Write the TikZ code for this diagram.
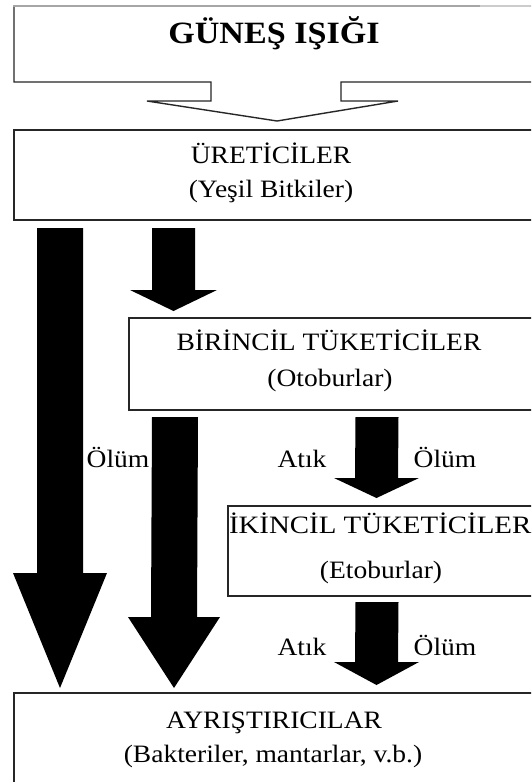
\documentclass[tikz,border=0pt]{standalone}
\usepackage{fontspec}
\usepackage{graphicx}
\setmainfont[FakeStretch=1.1]{Liberation Serif}
\usetikzlibrary{calc}
\tikzset{
  box/.style={draw=black!85, line width=1.4pt, rectangle, inner sep=0pt, outer sep=0pt, anchor=north west},
  txt/.style={inner sep=0pt, outer sep=0pt, anchor=base, font=\fontsize{25}{30}\selectfont},
  ttl/.style={inner sep=0pt, outer sep=0pt, anchor=base, font=\bfseries\fontsize{31}{36}\selectfont},
  blk/.style={fill=black},
}
% #1 start, #2 tip, #3 head length, #4 shaft half width, #5 head half width
\newcommand\blockarrow[5]{%
  \fill[blk] ($(#1)+(-#4,0)$) -- ($(#1)+(#4,0)$) -- ($(#2)+(#4,-#3)$) -- ($(#2)+(#5,-#3)$)
    -- (#2) -- ($(#2)+(-#5,-#3)$) -- ($(#2)+(-#4,-#3)$) -- cycle;}
\begin{document}
\begin{tikzpicture}[x=1pt,y=-1pt]
\useasboundingbox (0,0) rectangle (531,782);
\fill[white] (0,0) rectangle (531,782);
\clip (0,0) rectangle (531,782);

% sunlight callout box
\node[minimum width=546pt, minimum height=76pt, inner sep=0pt, outer sep=0pt, anchor=north west] (sun) at (14,6) {};
\draw[black!85, line width=1.4pt, line join=miter]
  (14,6) -- (14,82) -- (211,82) -- (211,101) -- (147,101) -- (277,121) -- (398,101)
  -- (341,101) -- (341,82) -- (560,82);
\draw[gray!70, line width=2.4pt] (13.3,6) -- (480,6);
\draw[gray!40, line width=1.5pt] (480,6) -- (560,6);
\node[ttl] (suntxt) at (274,43) {GÜNEŞ IŞIĞI};

% boxes
\node[box, minimum width=546pt, minimum height=90pt] (ure) at (14,130) {};
\node[txt] (uret1) at (271,163) {ÜRETİCİLER};
\node[txt] (uret2) at (271,197) {(Yeşil Bitkiler)};

\node[box, minimum width=431pt, minimum height=92pt] (bir) at (129,318) {};
\node[txt] (birt1) at (329,350) {BİRİNCİL TÜKETİCİLER};
\node[txt] (birt2) at (330,386) {(Otoburlar)};

\node[box, minimum width=332pt, minimum height=90pt] (iki) at (228,506) {};
\node[txt, anchor=base west] (ikit1) at (229,533) {\scalebox{1.05}[1]{İKİNCİL TÜKETİCİLER}};
\node[txt] (ikit2) at (381,578) {(Etoburlar)};

\node[box, minimum width=546pt, minimum height=110pt] (ayr) at (14,693) {};
\node[txt] (ayrt1) at (274,728) {AYRIŞTIRICILAR};
\node[txt] (ayrt2) at (273,762) {(Bakteriler, mantarlar, v.b.)};

% connector anchor points
\path (ure.south west) ++(46,8)  coordinate (a1s);
\path (ayr.north west) ++(46,-5) coordinate (a1e);
\path (ure.south west) ++(159.5,8) coordinate (a2s);
\path (bir.north west) ++(44.5,-7) coordinate (a2e);
\path (bir.south west) ++(46,7) coordinate (a3s);
\path (ayr.north west) ++(160,-5) coordinate (a3e);
\path (bir.south west) ++(248,7) coordinate (a4s);
\path (iki.north west) ++(148.5,-8) coordinate (a4e);
\path (iki.south west) ++(149,6) coordinate (a5s);
\path (ayr.north west) ++(362.5,-8) coordinate (a5e);

\blockarrow{a1s}{a1e}{115}{23}{47}
\blockarrow{a2s}{a2e}{21}{21.5}{43.5}
\blockarrow{a3s}{a3e}{71}{23}{46}
\blockarrow{a4s}{a4e}{20}{21.5}{42.5}
\blockarrow{a5s}{a5e}{23}{21.5}{42.5}

% labels
\node[txt] (l1) at (118,467) {Ölüm};
\node[txt] (l2) at (302,467) {Atık};
\node[txt] (l3) at (445,467) {Ölüm};
\node[txt] (l4) at (302,655) {Atık};
\node[txt] (l5) at (445,655) {Ölüm};
\end{tikzpicture}
\end{document}
